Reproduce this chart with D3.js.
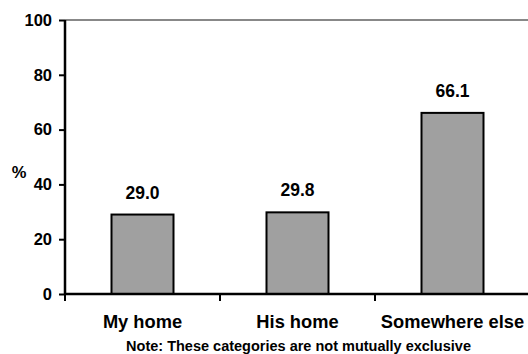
<!DOCTYPE html>
<html>
<head>
<meta charset="utf-8">
<script src="https://cdn.jsdelivr.net/npm/d3@7"></script>
<style>
  html, body { margin: 0; padding: 0; background: #fff; }
  svg { display: block; font-family: Arial, "Liberation Sans", sans-serif; font-weight: bold; }
</style>
</head>
<body>
<svg id="chart" width="528" height="354"></svg>
<script>
// Share of respondents by place (categories overlap)
const categories = ["My home", "His home", "Somewhere else"];
const values = [29.0, 29.8, 66.1];
const yTicks = [0, 20, 40, 60, 80, 100];
const axisLabel = "%";
const note = "Note: These categories are not mutually exclusive";

const svg = d3.select("#chart");
const plotLeft = 65, plotRight = 530, plotTop = 20, plotBottom = 294;

const x = d3.scaleBand().domain(categories).range([plotLeft, plotRight]).padding(0);
const y = d3.scaleLinear().domain([0, 100]).range([plotBottom, plotTop]);
const barW = x.bandwidth() * 0.4;

// top reference line at 100
svg.append("line")
  .attr("x1", plotLeft).attr("x2", 528)
  .attr("y1", y(100)).attr("y2", y(100))
  .attr("stroke", "#888").attr("stroke-width", 2);

// bars
svg.selectAll("rect.bar").data(values).enter().append("rect")
  .attr("class", "bar")
  .attr("x", (d, i) => x(categories[i]) + (x.bandwidth() - barW) / 2)
  .attr("y", d => y(d))
  .attr("width", barW)
  .attr("height", d => y(0) - y(d))
  .attr("fill", "#a0a0a0")
  .attr("stroke", "#000")
  .attr("stroke-width", 2);

// value labels
svg.selectAll("text.val").data(values).enter().append("text")
  .attr("class", "val")
  .attr("x", (d, i) => x(categories[i]) + x.bandwidth() / 2)
  .attr("y", d => y(d) - 16)
  .attr("text-anchor", "middle")
  .attr("font-size", 17.5)
  .text(d => d.toFixed(1));

// y axis
const yAxis = d3.axisLeft(y).tickValues(yTicks).tickSize(6).tickPadding(7);
const gy = svg.append("g").attr("transform", `translate(${plotLeft},0)`).call(yAxis);
gy.select(".domain").attr("stroke", "#000").attr("stroke-width", 2.5)
  .attr("d", `M0,${plotTop}V${plotBottom + 1}`);
gy.selectAll(".tick line").attr("stroke", "#000").attr("stroke-width", 2);
gy.selectAll(".tick text").attr("font-size", 16.5).attr("font-weight", "bold")
  .attr("font-family", "Arial, 'Liberation Sans', sans-serif").attr("fill", "#000");

// x axis with ticks at category boundaries
const gx = svg.append("g").attr("transform", `translate(0,${plotBottom})`);
gx.append("line").attr("x1", plotLeft).attr("x2", 528).attr("y1", 0).attr("y2", 0)
  .attr("stroke", "#000").attr("stroke-width", 2.5);
gx.selectAll("line.tk").data(categories).enter().append("line")
  .attr("class", "tk")
  .attr("x1", d => x(d)).attr("x2", d => x(d))
  .attr("y1", 0).attr("y2", 7)
  .attr("stroke", "#000").attr("stroke-width", 2);
gx.selectAll("text.cat").data(categories).enter().append("text")
  .attr("class", "cat")
  .attr("x", d => x(d) + x.bandwidth() / 2)
  .attr("y", 34)
  .attr("text-anchor", "middle")
  .attr("font-size", 18.3)
  .text(d => d);

// axis title
svg.append("text")
  .attr("x", 19).attr("y", 178)
  .attr("text-anchor", "middle")
  .attr("font-size", 16.5)
  .text(axisLabel);

// footnote
svg.append("text")
  .attr("x", (plotLeft + plotRight) / 2 + 1).attr("y", 351)
  .attr("text-anchor", "middle")
  .attr("font-size", 14.5)
  .text(note);
</script>
</body>
</html>
